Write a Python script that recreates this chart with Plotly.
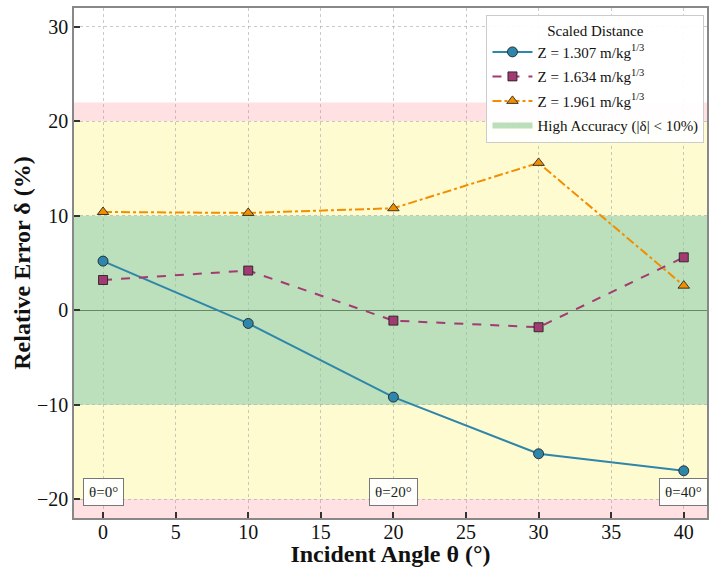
import plotly.graph_objects as go

# Incident angles and relative errors for each scaled distance
angles = [0, 10, 20, 30, 40]
err_z1307 = [5.2, -1.4, -9.2, -15.2, -17.0]
err_z1634 = [3.2, 4.2, -1.1, -1.8, 5.6]
err_z1961 = [10.4, 10.3, 10.8, 15.6, 2.6]

series_names = [
    "Z = 1.307 m/kg<sup>1/3</sup>",
    "Z = 1.634 m/kg<sup>1/3</sup>",
    "Z = 1.961 m/kg<sup>1/3</sup>",
]
marked_angles = [0, 20, 40]

x_range = [-2, 41.6]
y_range = [-22, 32]

FONT = "Liberation Serif, Times New Roman, serif"

fig = go.Figure()

# Accuracy bands
band_shapes = [
    (20, 22, "rgba(255,205,210,0.6)"),
    (-22, -20, "rgba(255,205,210,0.6)"),
    (10, 20, "rgba(255,250,190,0.7)"),
    (-20, -10, "rgba(255,250,190,0.7)"),
]
for y0, y1, col in band_shapes:
    fig.add_shape(type="rect", xref="paper", x0=0, x1=1, yref="y", y0=y0, y1=y1,
                  fillcolor=col, line_width=0, layer="below")

# High-accuracy band drawn as a filled trace so it appears in the legend
fig.add_trace(go.Scatter(
    x=[x_range[0], x_range[1], x_range[1], x_range[0], x_range[0]],
    y=[-10, -10, 10, 10, -10],
    fill="toself", mode="none",
    fillcolor="rgba(140,200,140,0.58)",
    name="High Accuracy (|δ| < 10%)",
    hoverinfo="skip",
    legendrank=2000, legendgroup="band",
))

styles = [
    dict(color="#2E86AB", dash="solid", symbol="circle", size=10),
    dict(color="#A23B72", dash="dash", symbol="square", size=9),
    dict(color="#F18F01", dash="dashdot", symbol="triangle-up", size=10),
]
for i, (name, vals, st) in enumerate(zip(series_names, [err_z1307, err_z1634, err_z1961], styles)):
    fig.add_trace(go.Scatter(
        x=angles, y=vals, mode="lines+markers", name=name,
        line=dict(color=st["color"], width=2, dash=st["dash"]),
        marker=dict(symbol=st["symbol"], size=st["size"], color=st["color"],
                    line=dict(color="rgba(30,30,30,0.85)", width=1)),
        legendrank=1000 + i, legendgroup=f"s{i}",
    ))

for a in marked_angles:
    fig.add_annotation(x=a, y=-19.2, text=f"θ={a}°", showarrow=False,
                       font=dict(family=FONT, size=15, color="#222"),
                       bgcolor="rgba(255,255,255,0.9)", bordercolor="#777",
                       borderwidth=1, borderpad=5)

fig.update_layout(
    width=710, height=567,
    margin=dict(l=74, r=1, t=8, b=49),
    paper_bgcolor="white", plot_bgcolor="white",
    font=dict(family=FONT, color="#111"),
    showlegend=True,
    legend=dict(
        x=0.996, y=0.986, xanchor="right", yanchor="top",
        bgcolor="rgba(255,255,255,0.92)", bordercolor="#cccccc", borderwidth=1,
        font=dict(family=FONT, size=15, color="#111"),
        title=dict(text="Scaled Distance", side="top center",
                   font=dict(family=FONT, size=15)),
        traceorder="grouped", tracegroupgap=2, itemwidth=40,
    ),
    xaxis=dict(
        range=x_range, tickmode="array", tickvals=list(range(0, 41, 5)),
        ticks="inside", ticklen=6, tickwidth=1.5, tickcolor="#333",
        ticklabelstandoff=-5,
        tickfont=dict(family=FONT, size=20, color="#111"),
        showgrid=True, gridcolor="rgba(150,150,150,0.5)", griddash="dot", gridwidth=1,
        showline=True, linecolor="#888", linewidth=1.5, mirror=True,
        zeroline=False,
        title=dict(text="<b>Incident Angle θ (°)</b>", standoff=0,
                   font=dict(family=FONT, size=24, color="#111")),
    ),
    yaxis=dict(
        range=y_range, tickmode="array", tickvals=[-20, -10, 0, 10, 20, 30],
        ticktext=["−20", "−10", "0", "10", "20", "30"],
        ticks="inside", ticklen=6, tickwidth=1.5, tickcolor="#333",
        tickfont=dict(family=FONT, size=20, color="#111"),
        showgrid=True, gridcolor="rgba(150,150,150,0.5)", griddash="dot", gridwidth=1,
        showline=True, linecolor="#888", linewidth=1.5, mirror=True,
        zeroline=True, zerolinecolor="#333", zerolinewidth=1.3,
        title=dict(text="<b>Relative Error δ (%)</b>", standoff=0,
                   font=dict(family=FONT, size=24, color="#111")),
    ),
)

fig.write_html("out.html")
